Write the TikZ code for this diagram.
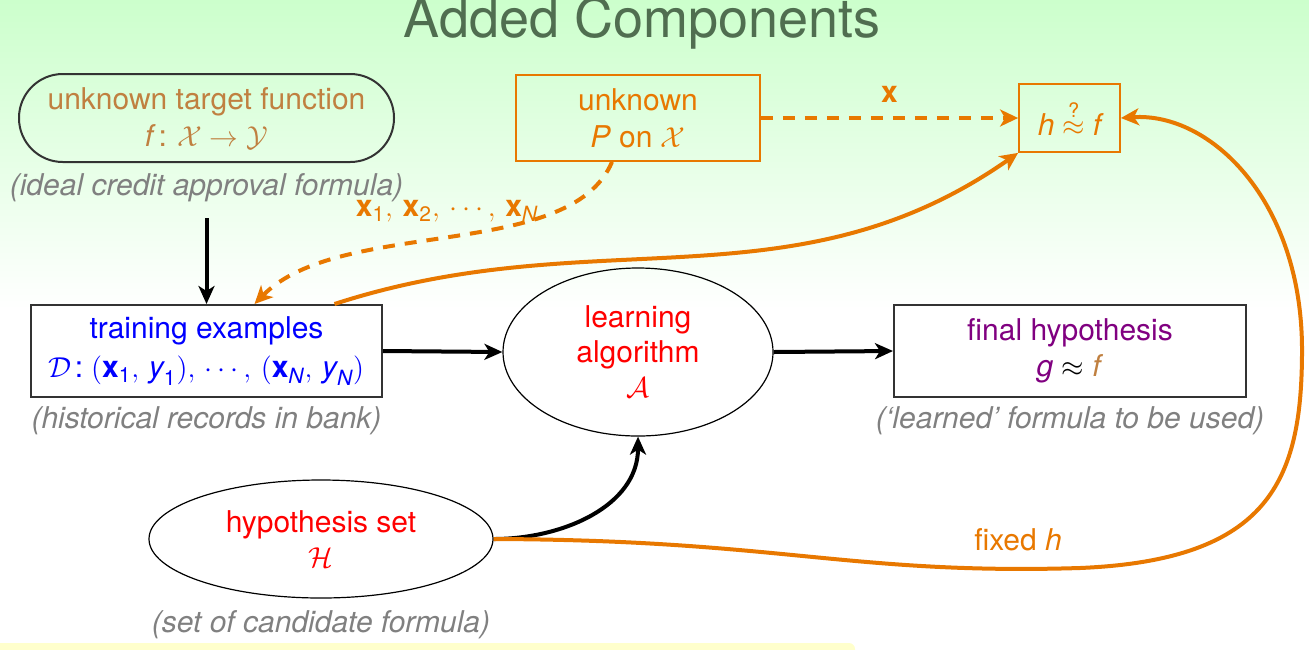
\documentclass[tikz,border=0pt]{standalone}
\usepackage{fontspec}
\setmainfont{TeX Gyre Heros}
\usetikzlibrary{arrows.meta,shapes.geometric}
\definecolor{orng}{RGB}{232,120,0}
\definecolor{tanc}{RGB}{192,128,64}
\definecolor{ttl}{RGB}{80,110,80}
\definecolor{gry}{RGB}{128,128,128}
\definecolor{bggreen}{RGB}{204,255,204}
\definecolor{ylw}{RGB}{255,255,204}
\definecolor{purp}{RGB}{128,0,128}
\newcommand{\bodyfont}{\fontsize{15pt}{18.5pt}\selectfont}
\newcommand{\sbs}[1]{_{\mbox{\fontsize{10.5pt}{10.5pt}\selectfont#1}}}
\begin{document}
\begin{tikzpicture}[x=0.5pt,y=0.5pt,
  txt/.style={inner sep=0pt, align=center, font=\bodyfont},
  rbox/.style={txt, draw=black!80, line width=1pt},
  obox/.style={txt, draw=orng, line width=0.9pt, text=orng},
  ell/.style={txt, ellipse, draw=black, line width=0.6pt},
  capt/.style={txt, text=gry, font=\bodyfont\itshape},
  blk/.style={line width=2pt, -{Stealth[length=9pt,width=8pt,inset=2.5pt]}},
  org/.style={draw=orng, line width=2pt, -{Stealth[length=9pt,width=8.5pt,inset=2.5pt]}},
  orgd/.style={org, dash pattern=on 6pt off 5pt}]
\useasboundingbox (0,0) rectangle (1309,-649);
\clip (0,0) rectangle (1309,-649);
\shade[top color=bggreen, bottom color=white] (0,0) rectangle (1309,-310);
\fill[ylw, rounded corners=3pt] (-10,-643) rectangle (855,-670);

\node[anchor=base, inner sep=0pt, font=\fontsize{27pt}{30pt}\selectfont, text=ttl] (title) at (642,-37) {Added Components};

\node[rbox, rounded corners=21.9pt, minimum width=187.5pt, minimum height=44pt, text=tanc] (tf) at (206.5,-118)
  {unknown target function\\ \textit{f}\kern1.5pt:\kern5pt$\mathcal{X}\to\mathcal{Y}$};
\node[capt] (tfc) at (206.5,-188) {(ideal credit approval formula)};

\node[obox, minimum width=122pt, minimum height=43pt] (P) at (638,-118)
  {unknown\\ \textit{P} on $\mathcal{X}$};

\node[obox, minimum width=50.5pt, minimum height=34pt] (hf) at (1069.5,-118)
  {$\textit{h}\stackrel{\mbox{\fontsize{10pt}{10pt}\selectfont ?}}{\approx}\textit{f}$};

\node[rbox, minimum width=175.5pt, minimum height=46pt, text=blue, font=\fontsize{15pt}{19.5pt}\selectfont] (train) at (206.5,-351)
  {training examples\\ $\mathcal{D}$\kern1.5pt:\kern4pt$(\textbf{x}\sbs{1},\,\textit{y}\sbs{1}),\,\cdots,\,(\textbf{x}\sbs{\itshape N},\,\textit{y}\sbs{\itshape N})$};
\node[capt] (trc) at (206.5,-421) {(historical records in bank)};

\node[ell, minimum width=135pt, minimum height=84pt, text=red, font=\fontsize{15pt}{17.5pt}\selectfont] (learn) at (638,-352)
  {learning\\ algorithm\\ $\mathcal{A}$};

\node[rbox, minimum width=176pt, minimum height=46pt, text=purp, font=\fontsize{15pt}{18pt}\selectfont] (final) at (1070,-351)
  {final hypothesis\\ \textit{g} {\color{black}$\approx$} {\color{tanc}\textit{f}}};
\node[capt] (fic) at (1070,-421) {(`learned' formula to be used)};

\node[ell, minimum width=172pt, minimum height=59pt, text=red, font=\fontsize{15pt}{17.5pt}\selectfont] (hset) at (321,-539)
  {hypothesis set\\ $\mathcal{H}$};
\node[capt] (hsc) at (321,-625) {(set of candidate formula)};

% black arrows
\coordinate (t0) at (206.5,-218);
\draw[blk] (t0) -- (train.north);
\draw[blk] (train.east) -- (learn.west);
\draw[blk] (learn.east) -- (final.west);
\draw[blk] (hset.east) to[out=0,in=-90] (learn.south);

% orange arrows
\draw[orgd] (P.east) -- node[midway, anchor=south, inner sep=0pt, yshift=7pt, text=orng, font=\bodyfont] (xlab) {\textbf{x}} (hf.west);
\draw[orgd] ([xshift=-13pt]P.south) .. controls (570,-262) and (340,-217) .. ([xshift=24pt]train.north);
\node[txt, text=orng] (xs) at (447,-211) {$\textbf{x}\sbs{1},\,\textbf{x}\sbs{2},\,\cdots,\,\textbf{x}\sbs{\itshape N}$};
\draw[org] ([xshift=64pt]train.north) to[out=18,in=215] (hf.south west);

\coordinate (c1) at (1080,-568);
\coordinate (c2) at (1302,-350);
\draw[org] (hset.east) .. controls (780,-540) and (850,-575) .. (c1)
  .. controls (1270,-560) and (1302,-480) .. (c2)
  .. controls (1302,-200) and (1210,-112) .. (hf.east);
\node[txt, text=orng] (fh) at (1018,-540) {fixed \textit{h}};
\end{tikzpicture}
\end{document}
